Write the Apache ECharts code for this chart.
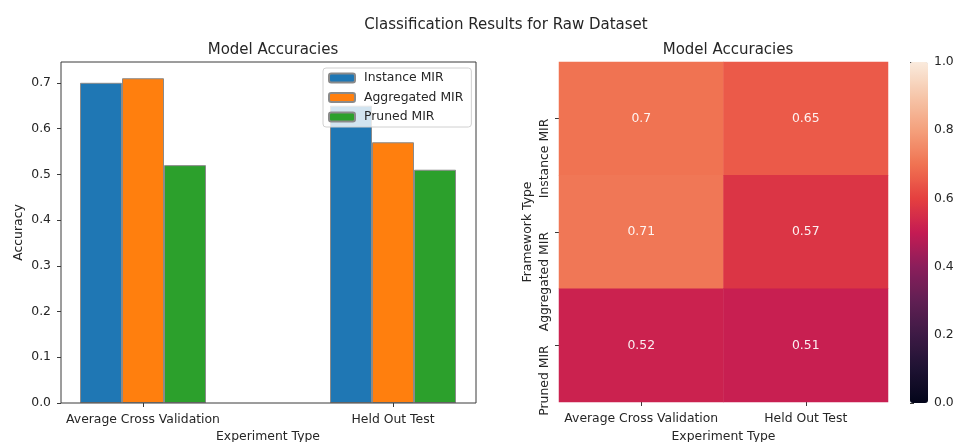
<!DOCTYPE html>
<html>
<head>
<meta charset="utf-8">
<title>Classification Results for Raw Dataset</title>
<script src="https://cdn.jsdelivr.net/npm/echarts@6/dist/echarts.min.js"></script>
<style>
  html, body { margin: 0; padding: 0; background: #ffffff; }
  #chart { width: 958px; height: 442px; }
</style>
</head>
<body>
<div id="chart"></div>
<script>
// Experiment types (x categories) and framework types (series / heatmap rows)
const experiments = ['Average Cross Validation', 'Held Out Test'];
const frameworks = ['Instance MIR', 'Aggregated MIR', 'Pruned MIR'];

// Accuracy per framework, one value per experiment type
const instanceMir = [0.70, 0.65];
const aggregatedMir = [0.71, 0.57];
const prunedMir = [0.52, 0.51];

// Tick values
const accuracyTicks = [0.0, 0.1, 0.2, 0.3, 0.4, 0.5, 0.6, 0.7];
const colorbarTicks = [0.0, 0.2, 0.4, 0.6, 0.8, 1.0];

// Upper limit of the accuracy axis (data max plus 5% headroom)
const accuracyMax = 0.7455;

const frameworkValues = [instanceMir, aggregatedMir, prunedMir];
const barColors = ['#1f77b4', '#ff7f0e', '#2ca02c'];
const rocket = ['#03051a', '#1e1232', '#3d1a45', '#611f53', '#8b1e5b', '#c51b53',
                '#e5403f', '#f07352', '#f4a07c', '#f6c6aa', '#faebdd'];

const FONT = 'DejaVu Sans';
const TXT = '#262626';
const FS = 12.4;

// Heatmap cells: [experiment index, framework index, accuracy]
const heatData = [];
frameworkValues.forEach((row, yi) => {
  row.forEach((v, xi) => heatData.push([xi, yi, v]));
});

const barSeries = frameworks.map((name, i) => ({
  name: name,
  type: 'bar',
  xAxisIndex: 1,
  yAxisIndex: 1,
  z: 1,
  data: frameworkValues[i],
  barWidth: '16.8%',
  barGap: '0%',
  itemStyle: { color: barColors[i], borderColor: '#8a8a8a', borderWidth: 1 },
  emphasis: { disabled: true }
}));

const chart = echarts.init(document.getElementById('chart'), null, { renderer: 'canvas' });

const gridBase = { outerBoundsMode: 'none', containLabel: false };

chart.setOption({
  animation: false,
  textStyle: { fontFamily: FONT, color: TXT },
  title: [
    { text: 'Classification Results for Raw Dataset', left: 501, top: 13, textAlign: 'center',
      textStyle: { fontFamily: FONT, fontSize: 15, fontWeight: 'normal', color: TXT } },
    { text: 'Model Accuracies', left: 268, top: 38, textAlign: 'center',
      textStyle: { fontFamily: FONT, fontSize: 15, fontWeight: 'normal', color: TXT } },
    { text: 'Model Accuracies', left: 723, top: 38, textAlign: 'center',
      textStyle: { fontFamily: FONT, fontSize: 15, fontWeight: 'normal', color: TXT } }
  ],
  legend: {
    data: frameworks,
    orient: 'vertical',
    left: 323,
    top: 68,
    width: 147,
    z: 20,
    padding: [4, 8, 4, 5],
    itemWidth: 26,
    itemHeight: 9,
    itemGap: 7.5,
    backgroundColor: 'rgba(255,255,255,0.8)',
    borderColor: '#d0d0d0',
    borderWidth: 1,
    borderRadius: 3,
    selectedMode: false,
    textStyle: { fontFamily: FONT, fontSize: FS, color: TXT, padding: [0, 0, 0, 4] }
  },
  grid: [
    // frame of the bar chart
    Object.assign({ left: 61, top: 62, width: 415, height: 341, show: true, borderColor: '#3a3a3a',
      borderWidth: 1, backgroundColor: 'transparent', z: 3 }, gridBase),
    // bar placement grid
    Object.assign({ left: 18, top: 62, width: 500, height: 341 }, gridBase),
    // heatmap
    Object.assign({ left: 559, top: 62, width: 329, height: 340 }, gridBase),
    // colorbar scale
    Object.assign({ left: 910, top: 62, width: 18, height: 341 }, gridBase)
  ],
  xAxis: [
    { gridIndex: 0, type: 'value', min: 0, max: 1, show: false },
    { gridIndex: 1, type: 'category', data: experiments,
      axisLine: { show: false },
      axisTick: { show: true, alignWithLabel: true, length: 4, lineStyle: { color: '#3a3a3a' } },
      axisLabel: { fontFamily: FONT, fontSize: FS, color: TXT, margin: 11, interval: 0, hideOverlap: false },
      name: 'Experiment Type', nameLocation: 'middle', nameGap: 28,
      nameTextStyle: { fontFamily: FONT, fontSize: FS, color: TXT } },
    { gridIndex: 2, type: 'category', data: experiments,
      axisLine: { show: false },
      axisTick: { show: true, alignWithLabel: true, length: 4, lineStyle: { color: '#3a3a3a' } },
      axisLabel: { fontFamily: FONT, fontSize: FS, color: TXT, margin: 11, interval: 0, hideOverlap: false },
      splitLine: { show: false },
      name: 'Experiment Type', nameLocation: 'middle', nameGap: 29,
      nameTextStyle: { fontFamily: FONT, fontSize: FS, color: TXT } },
    { gridIndex: 3, type: 'value', min: 0, max: 1, show: false }
  ],
  yAxis: [
    { gridIndex: 0, type: 'value', min: 0, max: accuracyMax,
      axisLine: { show: false },
      axisTick: { show: true, length: 4, customValues: accuracyTicks, lineStyle: { color: '#3a3a3a' } },
      axisLabel: { fontFamily: FONT, fontSize: FS, color: TXT, margin: 10, customValues: accuracyTicks,
        formatter: v => v.toFixed(1) },
      splitLine: { show: false },
      name: 'Accuracy', nameLocation: 'middle', nameGap: 36,
      nameTextStyle: { fontFamily: FONT, fontSize: FS, color: TXT } },
    { gridIndex: 1, type: 'value', min: 0, max: accuracyMax, show: false },
    { gridIndex: 2, type: 'category', data: frameworks, inverse: true,
      axisLine: { show: false },
      axisTick: { show: true, alignWithLabel: true, length: 4, lineStyle: { color: '#3a3a3a' } },
      axisLabel: { fontFamily: FONT, fontSize: FS, color: TXT, margin: 8, rotate: 90, interval: 0,
        hideOverlap: false, align: 'right', verticalAlign: 'bottom' },
      splitLine: { show: false },
      name: 'Framework Type', nameLocation: 'middle', nameGap: 25,
      nameTextStyle: { fontFamily: FONT, fontSize: FS, color: TXT } },
    { gridIndex: 3, type: 'value', min: 0, max: 1, interval: 0.2, position: 'right',
      axisLine: { show: false },
      axisTick: { show: true, length: 4, customValues: colorbarTicks, lineStyle: { color: '#3a3a3a' } },
      axisLabel: { fontFamily: FONT, fontSize: FS, color: TXT, margin: 6, customValues: colorbarTicks,
        formatter: v => v.toFixed(1) },
      splitLine: { show: false } }
  ],
  visualMap: {
    type: 'continuous',
    min: 0,
    max: 1,
    dimension: 2,
    seriesIndex: 3,
    calculable: false,
    hoverLink: false,
    left: 910,
    top: 62,
    padding: 0,
    itemWidth: 18,
    itemHeight: 341,
    showLabel: false,
    inRange: { color: rocket }
  },
  series: barSeries.concat([{
    name: 'Model Accuracies',
    type: 'heatmap',
    xAxisIndex: 2,
    yAxisIndex: 2,
    data: heatData,
    label: {
      show: true,
      fontFamily: FONT,
      fontSize: FS,
      color: 'rgba(255,255,255,0.92)',
      formatter: p => String(p.value[2])
    },
    emphasis: { disabled: true }
  }])
});
</script>
</body>
</html>
